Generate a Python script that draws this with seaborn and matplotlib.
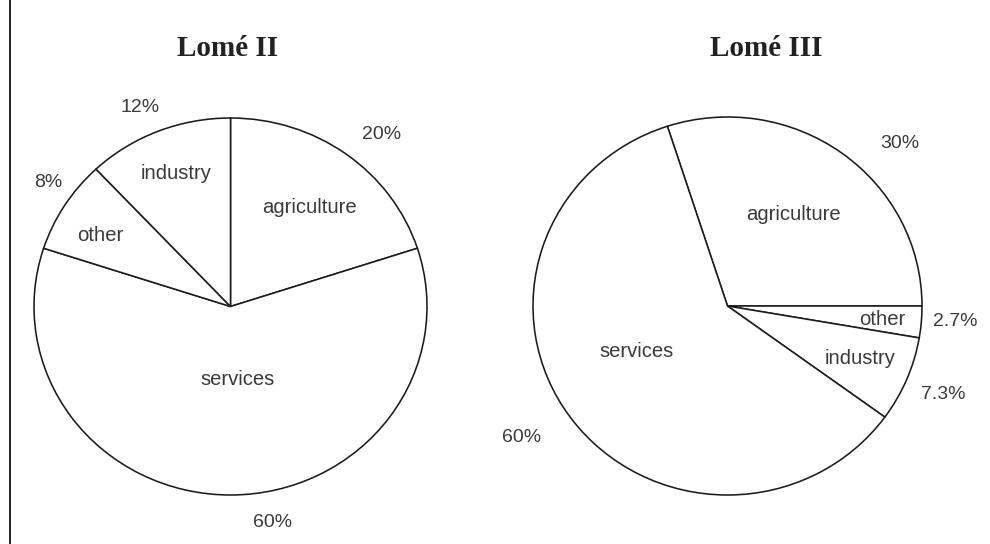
import matplotlib
matplotlib.use("Agg")
import matplotlib.pyplot as plt
from matplotlib.lines import Line2D
import numpy as np
import seaborn as sns

# Sector shares of allocations under the two conventions
sectors_ii = ["agriculture", "services", "other", "industry"]
shares_ii = [20, 60, 8, 12]

sectors_iii = ["agriculture", "other", "industry", "services"]
shares_iii = [30, 2.7, 7.3, 60]

titles = ["Lomé II", "Lomé III"]

# Label placement (polar: angle in degrees, radius as fraction of pie radius)
name_pos_ii = [(52.6, 0.66), (-85.0, 0.39), (150.3, 0.765), (111.5, 0.756)]
pct_pos_ii = [(49.9, 1.19), (-79.5, 1.163), (144.8, 1.137), (113.6, 1.15)]
name_pos_iii = [(55.0, 0.588), (-5.3, 0.798), (-22.0, 0.735), (206.9, 0.527)]
pct_pos_iii = [(44.2, 1.237), (-4.1, 1.173), (-22.8, 1.202), (213.4, 1.267)]

sns.set_theme(style="white")
plt.rcParams["font.family"] = ["Liberation Sans", "DejaVu Sans"]

W, H = 990, 544
fig = plt.figure(figsize=(W / 100, H / 100), dpi=100)
fig.patch.set_facecolor("white")

edge = "#1c1c1c"
txt = "#3a3a3a"


def add_pie(rect, values, names, start, name_pos, pct_pos):
    ax = fig.add_axes(rect)
    ax.pie(values, startangle=start, counterclock=False,
           colors=["white"] * len(values),
           wedgeprops=dict(edgecolor=edge, linewidth=1.15))
    ax.set_aspect("auto")
    ax.set_xlim(-1.1, 1.1)
    ax.set_ylim(-1.2, 1.2)
    ax.axis("off")
    for name, v, (a1, r1), (a2, r2) in zip(names, values, name_pos, pct_pos):
        t1, t2 = np.deg2rad(a1), np.deg2rad(a2)
        ax.text(r1 * np.cos(t1), r1 * np.sin(t1), name, ha="center",
                va="center", fontsize=14.6, color=txt)
        ax.text(r2 * np.cos(t2), r2 * np.sin(t2), f"{v:g}%", ha="center",
                va="center", fontsize=14, color=txt)
    return ax


add_pie([14.35 / W, 11.3 / H, 432.3 / W, 452.4 / H],
        shares_ii, sectors_ii, 90, name_pos_ii, pct_pos_ii)
add_pie([513.55 / W, 11.2 / H, 427.9 / W, 453.6 / H],
        shares_iii, sectors_iii, 108, name_pos_iii, pct_pos_iii)

for x, title in zip([228, 766], titles):
    fig.text(x / W, 1 - 49 / H, title, ha="center", va="center",
             fontsize=21, fontweight="bold", family="Liberation Serif",
             color="#222222")

# Left frame rule
fig.add_artist(Line2D([9.5 / W, 9.5 / W], [0, 1], transform=fig.transFigure,
                      color="#222222", linewidth=1.4))

fig.savefig("out.png", dpi=100, facecolor="white")
